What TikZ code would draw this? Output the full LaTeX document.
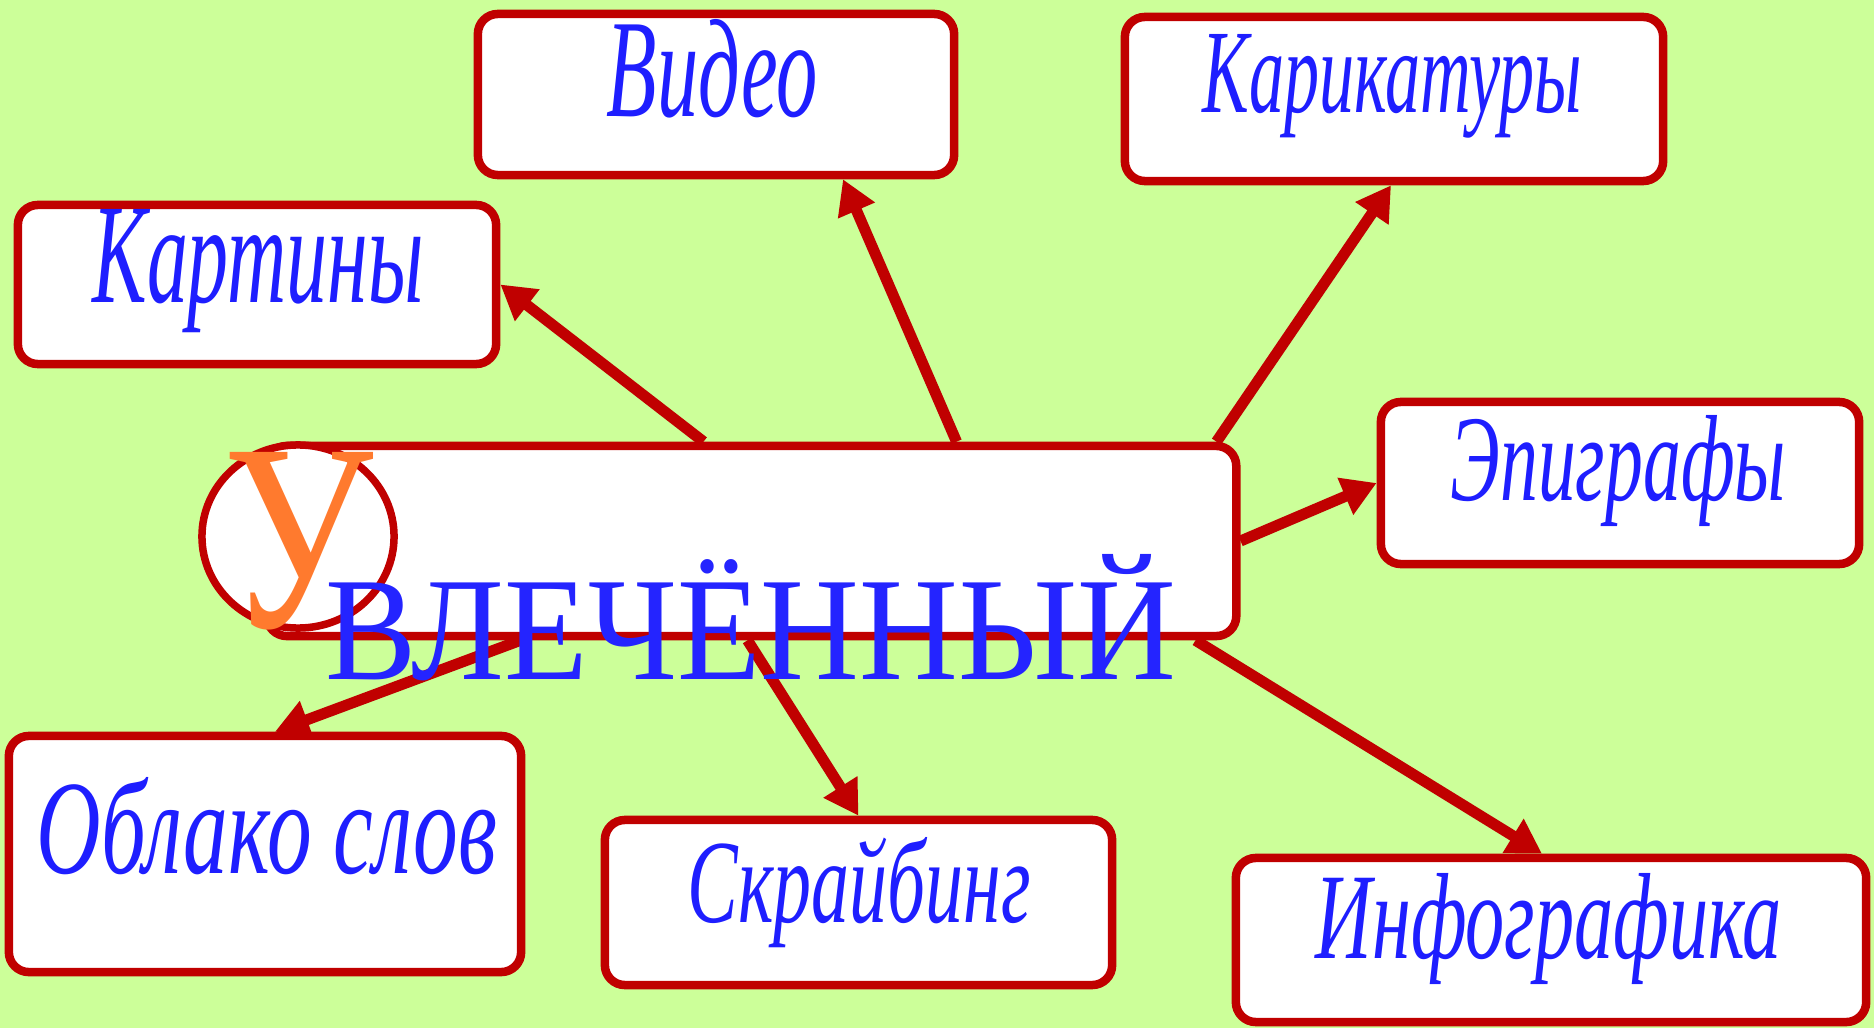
\documentclass[tikz,border=0pt]{standalone}
\usepackage{fontspec}
\setmainfont{Liberation Serif}
\usetikzlibrary{arrows.meta,calc,shapes.geometric}
\definecolor{bg}{HTML}{CCFF99}
\definecolor{dred}{HTML}{C00000}
\definecolor{txtblue}{HTML}{1E1EFF}
\definecolor{bigblue}{HTML}{2424FF}
\definecolor{uorange}{HTML}{FF7A2E}
\tikzset{
  box/.style={draw=dred, fill=white, line width=0.085cm, rounded corners=0.2cm, inner sep=0pt},
  link/.style={draw=dred, line width=0.11cm, -{Triangle[length=0.34cm,width=0.38cm]}},
  lbl/.style={anchor=base west, inner sep=0pt, text=txtblue, font=\itshape},
  big/.style={anchor=base west, inner sep=0pt},
}
\begin{document}
\begin{tikzpicture}[x=0.01cm,y=-0.01cm]
\fill[bg] (0,0) rectangle (1874,1028);
\useasboundingbox (0,0) rectangle (1874,1028);
% boxes
\node[box, minimum width=4.76cm, minimum height=1.61cm] (vid) at (716,94.5) {};
\node[box, minimum width=4.78cm, minimum height=1.59cm] (kart) at (257,284.5) {};
\node[box, minimum width=5.38cm, minimum height=1.64cm] (kar) at (1394,99) {};
\node[box, minimum width=4.78cm, minimum height=1.62cm] (epi) at (1620,483) {};
\node[box, minimum width=5.12cm, minimum height=2.36cm] (obl) at (265,854) {};
\node[box, minimum width=5.07cm, minimum height=1.65cm] (skr) at (858.5,902.5) {};
\node[box, minimum width=6.30cm, minimum height=1.64cm] (inf) at (1551,940) {};
\node[box, minimum width=9.69cm, minimum height=1.90cm] (c) at (751.5,541) {};
% connectors
\draw[link] ($(c.north)+(-48,0)$) -- (kart.east);
\draw[link] ($(c.north)+(205,0)$) -- ($(vid.south)+(127,0)$);
\draw[link] ($(c.north)+(465,0)$) -- ($(kar.south)+(-3,0)$);
\draw[link] (c.east) -- (epi.west);
\draw[link] ($(c.south)+(444,0)$) -- ($(inf.north)+(-9,0)$);
\draw[link] ($(c.south)+(-4,0)$) -- (skr.north);
\draw[link] ($(c.south)+(-231,0)$) -- ($(obl.north)+(10,0)$);
% circle with initial letter
\node[ellipse, draw=dred, fill=white, line width=0.075cm, minimum width=1.92cm, minimum height=1.83cm, inner sep=0pt] (ell) at (298,536.5) {};
% labels
\node[lbl] (vidt) at (606,117) {\resizebox{2.11cm}{0.97cm}{Видео}};
\node[lbl] (kartt) at (92,303) {\resizebox{3.31cm}{0.93cm}{Картины}};
\node[lbl] (kart2) at (1202,113) {\resizebox{3.79cm}{0.78cm}{Карикатуры}};
\node[lbl] (epit) at (1450,501) {\resizebox{3.35cm}{0.85cm}{Эпиграфы}};
\node[lbl] (oblt) at (36,873) {\resizebox{4.60cm}{0.96cm}{Облако слов}};
\node[lbl] (skrt) at (687,922) {\resizebox{3.43cm}{0.85cm}{Скрайбинг}};
\node[lbl] (inft) at (1315,958) {\resizebox{4.66cm}{0.85cm}{Инфографика}};
% big title
\node[big, text=bigblue] (vt) at (325,679) {\resizebox{8.50cm}{1.25cm}{ВЛЕЧЁННЫЙ}};
\node[big, text=uorange] (ut) at (223,627) {\resizebox{1.50cm}{1.75cm}{У}};
\end{tikzpicture}
\end{document}
